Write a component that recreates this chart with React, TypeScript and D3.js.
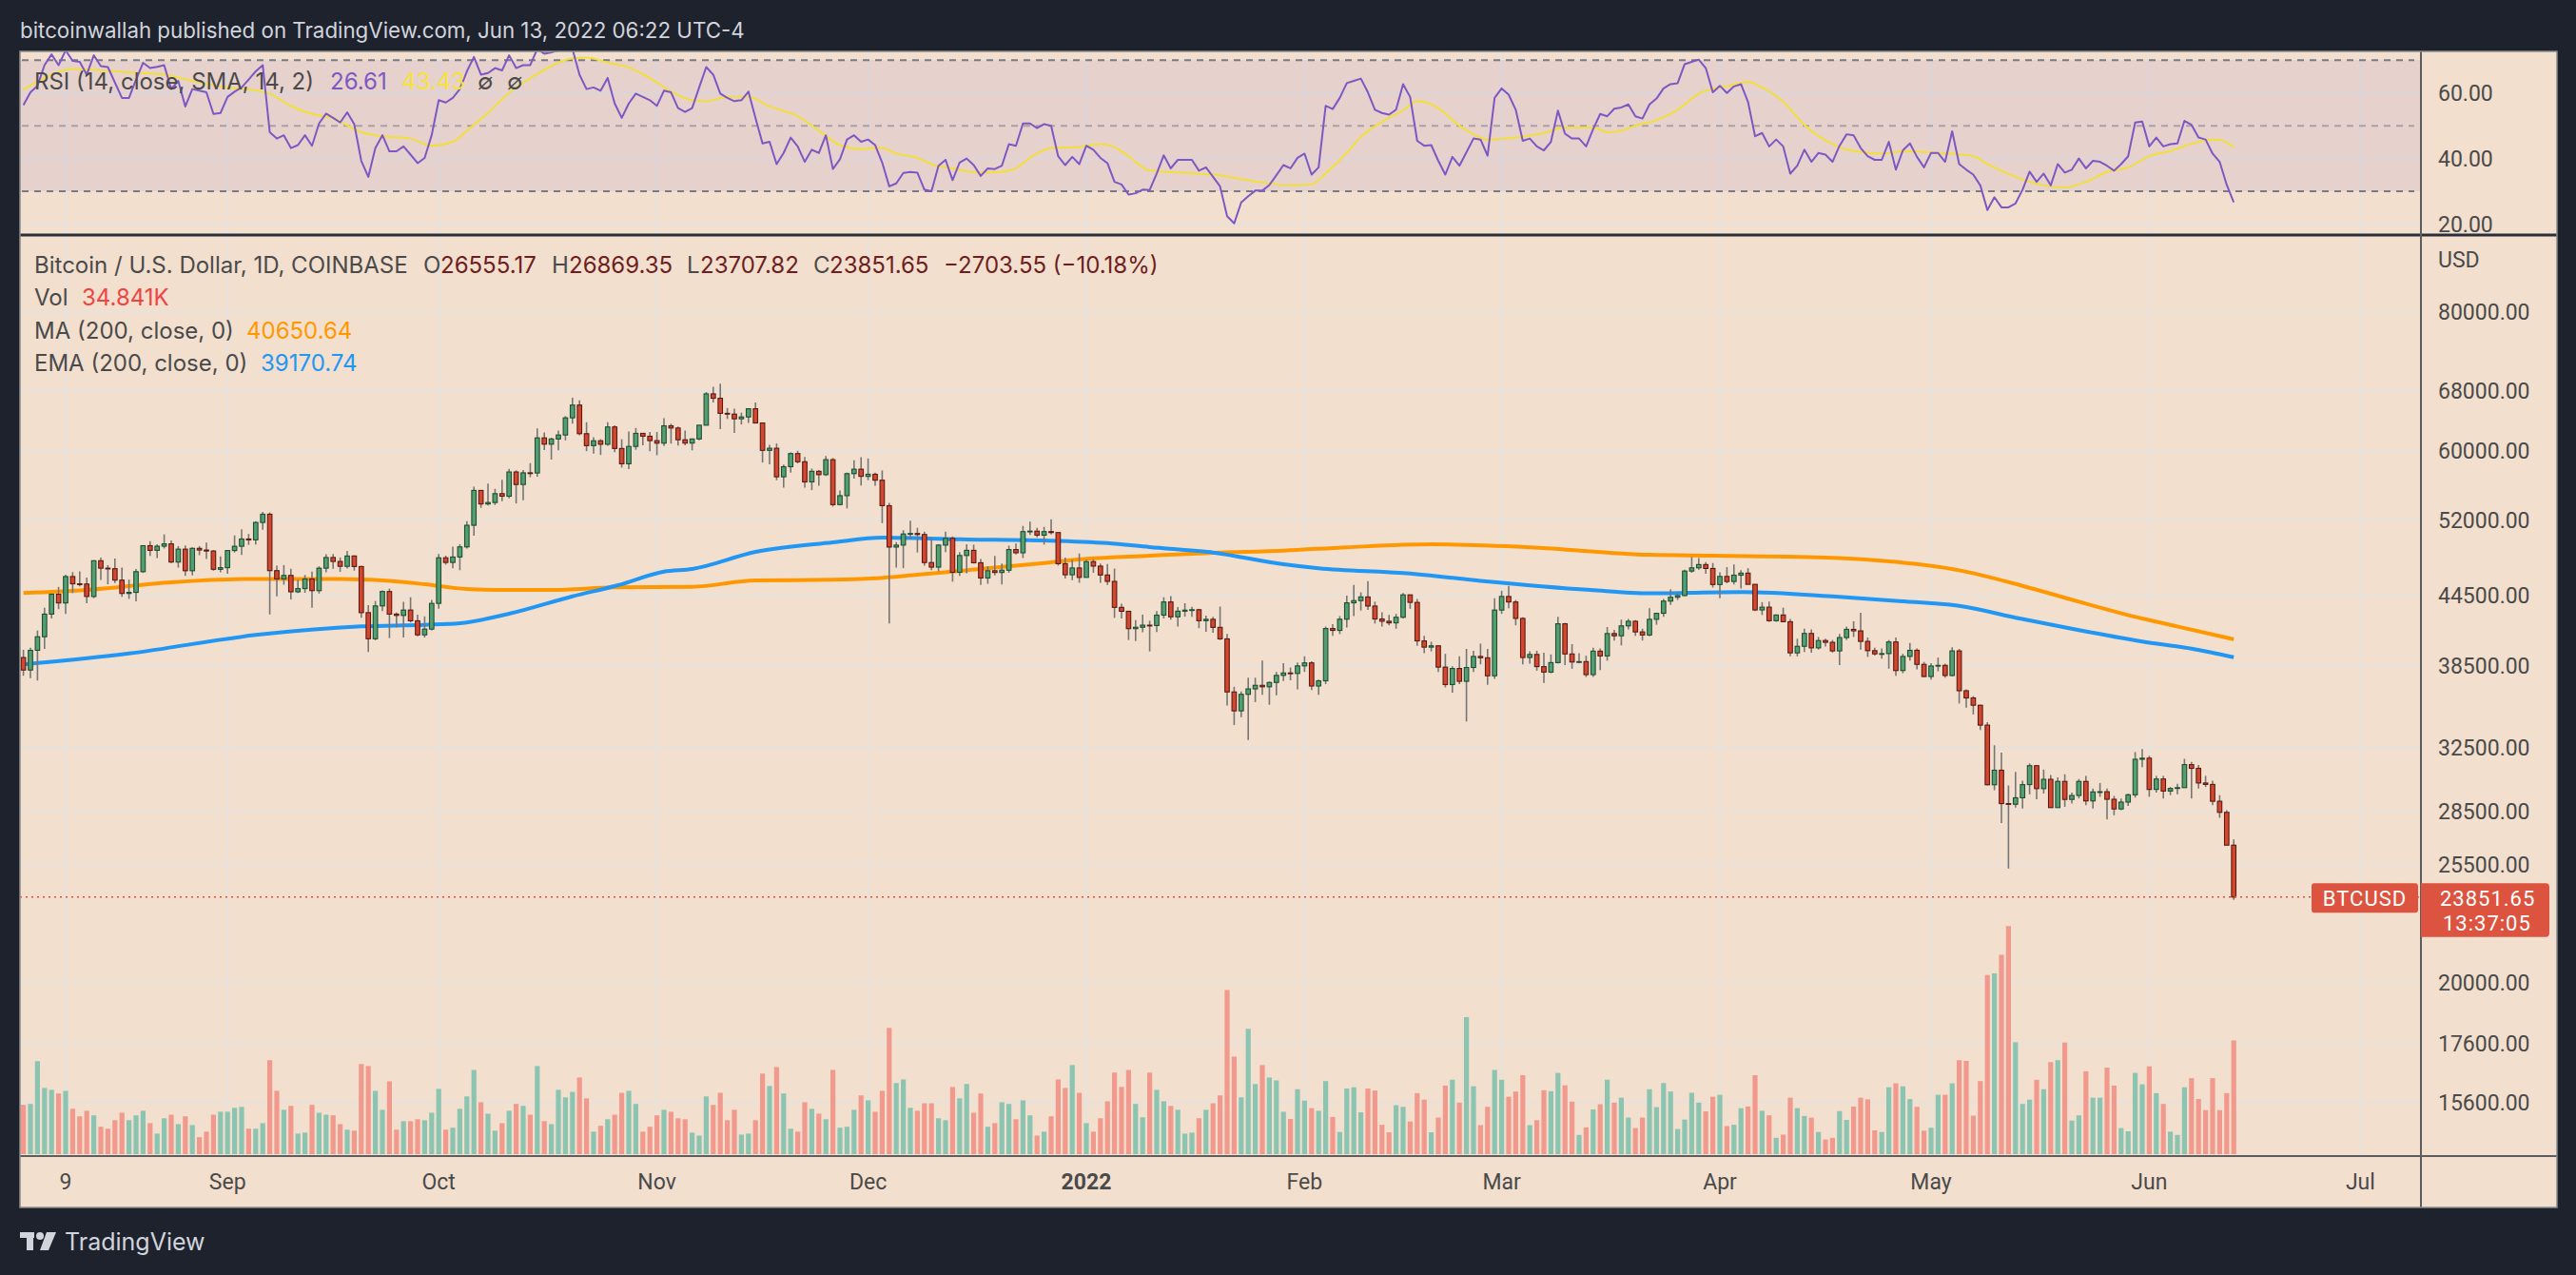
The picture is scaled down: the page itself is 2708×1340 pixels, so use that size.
import * as d3 from "d3";

// ---------- chart values ----------
const firstDay = "2021-08-03";

// daily candles: [open, high, low, close]
const ohlc: [number, number, number, number][] = [
  [39150, 39780, 37700, 38150], [38150, 39950, 37520, 39740], [39740, 41400, 37330, 40870], [40870, 43390, 39850, 42830], [42830, 44700, 42450, 44630],
  [44630, 45310, 43270, 43830], [43830, 46460, 42850, 46290], [46290, 46720, 44730, 45600], [45600, 46800, 45350, 45580], [45580, 46200, 43800, 44420],
  [44420, 47880, 44260, 47830], [47830, 48150, 45970, 47100], [47100, 47390, 45550, 47050], [47050, 48050, 45670, 45950], [45950, 47160, 44380, 44700],
  [44700, 46000, 44200, 44800], [44800, 47030, 43970, 46760], [46760, 49360, 46640, 49340], [49340, 49800, 48300, 48870], [48870, 49500, 48100, 49290],
  [49290, 50500, 49060, 49530], [49530, 49870, 47600, 47700], [47700, 49300, 47160, 48990], [48990, 49360, 46350, 46850], [46850, 49180, 46400, 49070],
  [49070, 49300, 48380, 48900], [48900, 49650, 48000, 48800], [48800, 48900, 46850, 46990], [46990, 48250, 46700, 47150], [47150, 48850, 46570, 48850],
  [48850, 50400, 48650, 49280], [49280, 51050, 48400, 50030], [50030, 50560, 49430, 49940], [49940, 51900, 49460, 51770], [51770, 52920, 50990, 52660],
  [52660, 52850, 42800, 46860], [46860, 47340, 44430, 46060], [46060, 47400, 45520, 46400], [46400, 47050, 44150, 44850], [44850, 45980, 44750, 45150],
  [45150, 46450, 44760, 46060], [46060, 46760, 43400, 44960], [44960, 47280, 44690, 47100], [47100, 48470, 46700, 48150], [48150, 48500, 47050, 47760],
  [47760, 48150, 46750, 47280], [47280, 48820, 47070, 48300], [48300, 48370, 46860, 47260], [47260, 47330, 42500, 42960], [42960, 43630, 39600, 40700],
  [40700, 44000, 40570, 43560], [43560, 44980, 43100, 44880], [44880, 45150, 40760, 42830], [42830, 42970, 41680, 42710], [42710, 43940, 40800, 43190],
  [43190, 44350, 42100, 42240], [42240, 42780, 40900, 41030], [41030, 42630, 40800, 41520], [41520, 44100, 41420, 43790], [43790, 48500, 43300, 48120],
  [48120, 48340, 47440, 47660], [47660, 49250, 47100, 48200], [48200, 49500, 46900, 49220], [49220, 51900, 49040, 51470], [51470, 55750, 50380, 55320],
  [55320, 55340, 53360, 53790], [53790, 56100, 53620, 53950], [53950, 55500, 53680, 54950], [54950, 56550, 54100, 54660], [54660, 57840, 54410, 57470],
  [57470, 57670, 53850, 56000], [56000, 57700, 54200, 57370], [57370, 58530, 56850, 57350], [57350, 62900, 56900, 61670], [61670, 62370, 60150, 60870],
  [60870, 61700, 58960, 61530], [61530, 62600, 60100, 62040], [62040, 64500, 61350, 64280], [64280, 67000, 63500, 66000], [66000, 66650, 62000, 62210],
  [62210, 63700, 60000, 60690], [60690, 61750, 59700, 61300], [61300, 61500, 59530, 60860], [60860, 63700, 60670, 63080], [63080, 63280, 59880, 60330],
  [60330, 61500, 58000, 58450], [58450, 62500, 57820, 60590], [60590, 62950, 60170, 62250], [62250, 62300, 60720, 61880], [61880, 62420, 60000, 61320],
  [61320, 62420, 59500, 61000], [61000, 64250, 60650, 63230], [63230, 63500, 60950, 62940], [62940, 63150, 60700, 61430], [61430, 62600, 60730, 61010],
  [61010, 61600, 60100, 61530], [61530, 63300, 61350, 63310], [63310, 67800, 63300, 67550], [67550, 68530, 66350, 66940], [66940, 69000, 62800, 64880],
  [64880, 65600, 64130, 64780], [64780, 65500, 62300, 64150], [64150, 64970, 63400, 64400], [64400, 65500, 63600, 65500], [65500, 66340, 63550, 63600],
  [63600, 63600, 58600, 60100], [60100, 60800, 58400, 60360], [60360, 60960, 56500, 56900], [56900, 58350, 55650, 58100], [58100, 59850, 57400, 59700],
  [59700, 60050, 58500, 58700], [58700, 59280, 55650, 56300], [56300, 57870, 55350, 57550], [57550, 57700, 55850, 57150], [57150, 59400, 57000, 58950],
  [58950, 59150, 53500, 53720], [53720, 55300, 53620, 54720], [54720, 57400, 53300, 57270], [57270, 58870, 56700, 57800], [57800, 59250, 55880, 56950],
  [56950, 59100, 56500, 57200], [57200, 57400, 55850, 56500], [56500, 57650, 51700, 53600], [53600, 53900, 42000, 49200], [49200, 49700, 47150, 49400],
  [49400, 50950, 47100, 50550], [50550, 51950, 50050, 50600], [50600, 51200, 48650, 50500], [50500, 50800, 47350, 47650], [47650, 50100, 46900, 47200],
  [47200, 49500, 46800, 49400], [49400, 50800, 48680, 50100], [50100, 50300, 45800, 46700], [46700, 48700, 46350, 48350], [48350, 49500, 46600, 48870],
  [48870, 49450, 47550, 47630], [47630, 48000, 45500, 46150], [46150, 47300, 45600, 46850], [46850, 48300, 46400, 46680], [46680, 47550, 45550, 46900],
  [46900, 49350, 46650, 48950], [48950, 49550, 48450, 48620], [48620, 51400, 48100, 50800], [50800, 51850, 50450, 50850], [50850, 51200, 50200, 50430],
  [50430, 51300, 49450, 50800], [50800, 52100, 50500, 50700], [50700, 50700, 47350, 47540], [47540, 48150, 46100, 46460], [46460, 47900, 45950, 47120],
  [47120, 48550, 45700, 46210], [46210, 47950, 46200, 47740], [47740, 47980, 46650, 47300], [47300, 47550, 45700, 46440], [46440, 47500, 45500, 45830],
  [45830, 47050, 42500, 43430], [43430, 43750, 42450, 43080], [43080, 43130, 40600, 41560], [41560, 42300, 40500, 41680], [41680, 42780, 41250, 41860],
  [41860, 42250, 39650, 41830], [41830, 43100, 41280, 42740], [42740, 44350, 42450, 43920], [43920, 44450, 42330, 42590], [42590, 43450, 41750, 43090],
  [43090, 43800, 42600, 43180], [43180, 43480, 42600, 43220], [43220, 43300, 41600, 42250], [42250, 42700, 41300, 42370], [42370, 42600, 41200, 41670],
  [41670, 43500, 40600, 40690], [40690, 41100, 35450, 36460], [36460, 36850, 34050, 35060], [35060, 36500, 34600, 36280], [36280, 37550, 33000, 36690],
  [36690, 37550, 35700, 36960], [36960, 38900, 36250, 36850], [36850, 37250, 35500, 37180], [37180, 38000, 36200, 37730], [37730, 38700, 37300, 37920],
  [37920, 38350, 37350, 37880], [37880, 38750, 36650, 38480], [38480, 39250, 38000, 38720], [38720, 38850, 36600, 36910], [36910, 37400, 36250, 37310],
  [37310, 41750, 37050, 41570], [41570, 41950, 40950, 41410], [41410, 42650, 41100, 42380], [42380, 44500, 41650, 43840], [43840, 45500, 42650, 44040],
  [44040, 44800, 43150, 44380], [44380, 45850, 43200, 43550], [43550, 43950, 42000, 42400], [42400, 43000, 41750, 42200], [42200, 42750, 41850, 42060],
  [42060, 42850, 41550, 42550], [42550, 44750, 42450, 44570], [44570, 44570, 43300, 43880], [43880, 44200, 40100, 40520], [40520, 40950, 39500, 40000],
  [40000, 40450, 39650, 40110], [40110, 40150, 38000, 38380], [38380, 39450, 36800, 37020], [37020, 38450, 36400, 38270], [38270, 39250, 37050, 37270],
  [37270, 39850, 34300, 38350], [38350, 39700, 38000, 39240], [39240, 40300, 38600, 39130], [39130, 39850, 37000, 37700], [37700, 44250, 37450, 43190],
  [43190, 44950, 42850, 44420], [44420, 45400, 43350, 43920], [43920, 44100, 41850, 42450], [42450, 42550, 38600, 39150], [39150, 39650, 38650, 39400],
  [39400, 39700, 38100, 38420], [38420, 39550, 37150, 37990], [37990, 39400, 37900, 38740], [38740, 42600, 38680, 41980], [41980, 42050, 38550, 39440],
  [39440, 40250, 38250, 38790], [38790, 39500, 38700, 38820], [38820, 39300, 37600, 37790], [37790, 39950, 37600, 39670], [39670, 39900, 38150, 39280],
  [39280, 41700, 38900, 41140], [41140, 41450, 40550, 40950], [40950, 42350, 40150, 41800], [41800, 42400, 41500, 42200], [42200, 42300, 40950, 41280],
  [41280, 41550, 40550, 41020], [41020, 43350, 40900, 42370], [42370, 42900, 41900, 42900], [42900, 44200, 42600, 44000], [44000, 45100, 43650, 44350],
  [44350, 44800, 44100, 44500], [44500, 46950, 44450, 46820], [46820, 48200, 46650, 47130], [47130, 48100, 46950, 47450], [47450, 47700, 46550, 47070],
  [47070, 47600, 45250, 45530], [45530, 46700, 44250, 46300], [46300, 47200, 45650, 45820], [45820, 47450, 45550, 46420], [46420, 46900, 45150, 46620],
  [46620, 47100, 45550, 45550], [45550, 45550, 43100, 43200], [43200, 43900, 42750, 43450], [43450, 43950, 42150, 42250], [42250, 42800, 42150, 42750],
  [42750, 43400, 42150, 42160], [42160, 42400, 39250, 39530], [39530, 40700, 39250, 40070], [40070, 41550, 39600, 41150], [41150, 41500, 39550, 39940],
  [39940, 40850, 39800, 40550], [40550, 40700, 40050, 40400], [40400, 40600, 39550, 39690], [39690, 41100, 38550, 40800], [40800, 41750, 40600, 41500],
  [41500, 42200, 40850, 41370], [41370, 42950, 39800, 40480], [40480, 40800, 39200, 39710], [39710, 39950, 39300, 39450], [39450, 39900, 39050, 39470],
  [39470, 40600, 38250, 40430], [40430, 40800, 37700, 38110], [38110, 39450, 37900, 39240], [39240, 40350, 38900, 39740], [39740, 39900, 38200, 38600],
  [38600, 38800, 37600, 37640], [37640, 38700, 37400, 38470], [38470, 39150, 38050, 38520], [38520, 38650, 37550, 37720], [37720, 40000, 37650, 39690],
  [39690, 39850, 35600, 36550], [36550, 36650, 35300, 36010], [36010, 36150, 34800, 35470], [35470, 35500, 33700, 34040], [34040, 34250, 30050, 30090],
  [30090, 32650, 29750, 31010], [31010, 32150, 27800, 28940], [28940, 30050, 25300, 28900], [28900, 30900, 28700, 29290], [29290, 30350, 28650, 30100],
  [30100, 31450, 29500, 31300], [31300, 31300, 29200, 29850], [29850, 31050, 29550, 30430], [30430, 30700, 28700, 28700], [28700, 30550, 28700, 30300],
  [30300, 30750, 28750, 29190], [29190, 29600, 28950, 29430], [29430, 30450, 29250, 30300], [30300, 30650, 28850, 29100], [29100, 29850, 28650, 29650],
  [29650, 30200, 29350, 29660], [29660, 29850, 28000, 29200], [29200, 29400, 28250, 28620], [28620, 29250, 28550, 29030], [29030, 29550, 28800, 29470],
  [29470, 32200, 29300, 31720], [31720, 32400, 31200, 31790], [31790, 31950, 29350, 29800], [29800, 30650, 29600, 30450], [30450, 30650, 29250, 29700],
  [29700, 29950, 29450, 29860], [29860, 30150, 29500, 29910], [29910, 31750, 29900, 31370], [31370, 31550, 29250, 31130], [31130, 31350, 29850, 30200],
  [30200, 30650, 29950, 30110], [30110, 30350, 28850, 29080], [29080, 29450, 28100, 28420], [28420, 28550, 26600, 26555], [26555.17, 26869.35, 23707.82, 23851.65],
];

// daily volume, thousands of BTC
const volumeK: number[] = [
  15.1, 15.4, 28.5, 20.3, 19.7, 18.6, 19.4, 13.9, 11.6, 13.3,
  11.9, 8.4, 7.8, 10.4, 12.7, 10.4, 11.9, 13.3, 9.5, 6.3,
  11.0, 12.1, 9.2, 11.6, 8.9, 5.2, 6.9, 12.1, 13.0, 13.0,
  14.2, 14.5, 7.8, 7.8, 9.5, 28.8, 19.4, 13.6, 14.8, 6.3,
  6.6, 15.1, 12.7, 12.1, 11.9, 9.2, 7.5, 7.2, 27.6, 27.0,
  19.4, 13.6, 22.3, 7.5, 10.1, 10.1, 10.7, 10.4, 12.7, 20.0,
  7.5, 8.1, 13.9, 17.7, 25.8, 15.9, 12.4, 7.2, 9.5, 13.3,
  15.4, 14.8, 12.1, 27.0, 10.1, 9.2, 19.7, 17.4, 19.1, 23.5,
  17.1, 6.9, 8.7, 10.7, 12.1, 18.8, 19.4, 15.4, 6.9, 8.4,
  11.9, 13.6, 13.0, 11.0, 10.7, 6.6, 5.7, 17.7, 15.1, 18.8,
  10.4, 13.6, 6.0, 6.3, 10.4, 24.7, 20.9, 26.7, 18.6, 7.8,
  6.9, 15.9, 13.9, 12.4, 10.7, 25.8, 8.1, 8.4, 13.6, 18.0,
  16.5, 13.0, 19.4, 38.7, 21.8, 22.9, 14.2, 13.3, 15.6, 15.6,
  11.0, 10.4, 20.6, 17.1, 21.5, 12.7, 18.6, 8.4, 9.5, 15.9,
  15.4, 10.7, 16.5, 11.9, 5.7, 6.9, 11.6, 22.9, 20.3, 27.3,
  18.8, 9.5, 6.9, 11.0, 16.2, 25.0, 20.6, 25.8, 15.4, 11.3,
  25.0, 19.7, 16.2, 14.8, 13.6, 6.3, 6.6, 11.0, 13.6, 15.6,
  18.0, 50.3, 29.9, 17.4, 38.4, 21.5, 27.3, 23.5, 22.6, 13.0,
  10.8, 19.9, 16.4, 14.1, 13.3, 22.4, 11.4, 6.8, 20.1, 20.5,
  12.8, 20.1, 19.5, 9.0, 6.7, 15.0, 14.5, 10.0, 18.7, 16.7,
  6.7, 11.2, 21.0, 22.8, 15.8, 42.0, 20.8, 8.9, 14.5, 25.8,
  22.8, 17.6, 19.2, 24.2, 8.9, 10.4, 19.6, 19.3, 24.9, 21.1,
  16.1, 5.9, 8.2, 13.7, 15.3, 22.8, 15.8, 17.3, 11.2, 8.0,
  11.2, 19.9, 14.4, 21.8, 19.2, 7.7, 10.6, 18.8, 15.8, 13.1,
  17.6, 18.2, 8.6, 9.0, 14.1, 14.6, 24.2, 13.3, 11.9, 5.0,
  6.0, 17.3, 14.1, 11.7, 11.2, 6.8, 4.5, 5.0, 13.2, 10.5,
  14.6, 17.3, 16.8, 7.3, 6.8, 20.5, 21.7, 20.8, 16.9, 14.5,
  7.2, 8.1, 18.2, 18.2, 21.7, 28.8, 28.6, 11.8, 22.4, 54.9,
  55.4, 61.1, 69.9, 34.3, 15.4, 16.7, 22.8, 19.9, 28.2, 28.8,
  34.2, 10.3, 11.9, 25.4, 17.3, 17.3, 26.5, 21.0, 8.0, 7.0,
  24.9, 21.4, 26.9, 18.7, 15.4, 6.9, 5.9, 20.5, 23.3, 16.9,
  13.5, 23.3, 13.5, 18.7, 34.841,
];

// RSI (14) per day
const rsi: number[] = [
  56.3, 60.2, 62.2, 68.5, 71.8, 68.5, 73.0, 69.8, 69.5, 65.6,
  71.5, 68.2, 67.9, 63.2, 58.5, 58.5, 64.1, 69.2, 67.6, 68.0,
  68.5, 61.2, 63.7, 55.9, 61.2, 60.7, 60.2, 53.6, 53.9, 58.8,
  60.4, 61.7, 64.1, 66.6, 68.5, 48.0, 46.1, 47.1, 43.2, 44.1,
  47.1, 43.9, 50.7, 53.7, 52.4, 51.0, 54.1, 50.5, 39.3, 34.4,
  43.2, 47.1, 42.2, 42.2, 43.7, 41.2, 38.6, 40.2, 47.1, 57.8,
  57.1, 58.5, 61.2, 66.6, 71.0, 65.6, 66.1, 67.6, 66.9, 71.5,
  67.6, 68.5, 68.5, 73.4, 72.0, 72.4, 73.0, 74.0, 73.4, 65.6,
  61.2, 61.7, 60.7, 64.6, 56.8, 52.4, 56.8, 59.8, 58.8, 57.8,
  56.1, 60.7, 60.2, 55.4, 54.2, 55.4, 61.7, 67.9, 65.6, 59.8,
  58.5, 57.5, 57.8, 60.4, 52.4, 44.6, 45.1, 38.3, 41.7, 46.4,
  43.7, 39.0, 42.7, 41.7, 47.1, 36.8, 39.8, 45.8, 47.1, 45.1,
  45.8, 44.1, 38.8, 31.5, 32.4, 35.6, 35.9, 35.7, 30.5, 30.0,
  37.8, 39.6, 33.4, 38.8, 40.0, 38.0, 34.7, 37.0, 36.8, 37.8,
  44.4, 43.9, 50.7, 50.7, 49.3, 50.5, 50.0, 40.7, 38.0, 40.5,
  38.3, 43.9, 42.7, 40.2, 38.6, 32.9, 32.1, 29.0, 29.4, 30.5,
  30.4, 35.4, 41.0, 37.0, 39.6, 39.6, 39.6, 36.3, 37.3, 34.4,
  31.5, 22.4, 20.2, 26.6, 28.5, 30.2, 30.2, 31.9, 34.9, 38.0,
  37.0, 40.2, 41.5, 35.1, 37.3, 56.1, 55.1, 58.5, 63.0, 63.7,
  64.4, 60.2, 54.9, 53.9, 53.4, 54.9, 62.7, 58.8, 45.4, 43.9,
  44.1, 39.3, 35.1, 40.5, 37.8, 41.9, 46.1, 45.8, 40.9, 58.5,
  61.4, 59.5, 54.9, 45.4, 46.1, 43.7, 42.5, 45.1, 54.6, 47.6,
  46.1, 46.1, 43.7, 49.0, 53.6, 52.9, 55.2, 55.6, 56.5, 52.9,
  52.2, 56.5, 58.3, 61.4, 62.7, 63.0, 68.8, 69.5, 70.2, 67.6,
  60.2, 62.2, 60.0, 62.0, 62.7, 57.3, 46.8, 47.8, 43.7, 45.8,
  43.7, 35.4, 37.8, 42.7, 39.0, 41.7, 41.2, 39.0, 43.9, 47.4,
  47.1, 43.2, 40.7, 39.6, 39.6, 45.1, 36.6, 42.5, 44.6, 40.5,
  37.3, 41.7, 41.7, 39.0, 48.3, 38.3, 36.6, 35.1, 31.8, 24.3,
  28.2, 25.1, 25.1, 26.3, 30.5, 36.0, 32.9, 35.4, 31.8, 38.3,
  35.7, 36.6, 40.0, 37.0, 39.3, 39.0, 37.8, 36.3, 38.3, 40.7,
  51.0, 51.3, 43.7, 46.4, 43.7, 44.4, 44.6, 51.5, 50.3, 46.4,
  45.8, 41.5, 39.0, 32.0, 26.61,
];

// SMA(14) of RSI, sampled along the line: [day index, value]
const rsiSma: [number, number][] = [
  [0, 61.0], [3, 64.6], [7, 67.3], [11, 66.9], [15, 66.3], [20, 65.6], [24, 63.7], [29, 61.7], [33, 60.8], [35, 59.8],
  [38, 56.0], [41, 53.6], [44, 52.3], [48, 48.0], [51, 46.8], [55, 46.1], [58, 43.9], [61, 45.1], [63, 48.5], [66, 54.0],
  [69, 60.0], [72, 64.5], [75, 68.2], [78, 70.6], [80, 70.8], [83, 69.3], [86, 67.8], [89, 64.5], [92, 60.5], [95, 57.8],
  [97, 57.5], [100, 58.8], [103, 58.8], [106, 55.9], [110, 52.9], [113, 48.5], [116, 44.1], [119, 42.9], [122, 43.2], [124, 41.5],
  [127, 40.2], [129, 38.3], [132, 37.0], [136, 35.7], [139, 36.0], [141, 37.0], [143, 40.2], [146, 43.2], [150, 43.5], [153, 44.4],
  [155, 43.5], [157, 40.7], [160, 36.3], [163, 35.9], [167, 35.4], [170, 34.9], [173, 33.7], [176, 32.7], [180, 31.8], [183, 32.1],
  [185, 35.5], [188, 41.7], [190, 46.6], [193, 51.2], [196, 54.7], [198, 57.5], [201, 55.4], [204, 50.0], [206, 47.4], [208, 45.8],
  [212, 46.4], [216, 47.8], [219, 49.5], [223, 49.5], [225, 48.0], [227, 48.5], [229, 50.0], [232, 51.7], [235, 54.9], [238, 59.8],
  [242, 62.1], [245, 63.4], [247, 61.7], [250, 57.3], [253, 50.3], [257, 44.4], [259, 42.7], [264, 41.5], [267, 42.2], [272, 41.7],
  [277, 40.7], [279, 38.3], [283, 34.4], [287, 31.8], [290, 31.2], [293, 32.9], [296, 35.9], [299, 37.3], [302, 40.7], [305, 42.3],
  [308, 44.5], [311, 45.8], [312, 45.7], [314, 43.43],
];

// MA (200) sampled along the line: [day index, price]
const ma200: [number, number][] = [
  [0, 44730], [9, 45020], [21, 45740], [33, 46060], [45, 46060], [51, 45920], [57, 45560], [63, 45110], [69, 45020], [75, 45020],
  [84, 45260], [95, 45320], [104, 45920], [115, 45980], [121, 46130], [127, 46470], [136, 47020], [145, 47600], [151, 48020], [160, 48330],
  [169, 48620], [179, 48840], [188, 49180], [200, 49480], [214, 49180], [231, 48420], [240, 48330], [257, 48120], [266, 47710], [275, 46890],
  [284, 45410], [292, 43940], [301, 42440], [305, 41890], [314, 40650.64],
];

// EMA (200) sampled along the line: [day index, price]
const ema200: [number, number][] = [
  [0, 38590], [15, 39480], [33, 41020], [48, 41760], [57, 41890], [62, 42030], [69, 42860], [78, 44430], [84.5, 45470], [91, 46770],
  [95, 47020], [104, 48710], [115, 49680], [122, 50170], [133, 50000], [145, 49880], [154, 49610], [160, 49200], [169, 48650], [179, 47480],
  [184, 47090], [196.5, 46600], [207, 45880], [222.6, 45020], [231, 44710], [244, 44820], [257.5, 44400], [266, 44020], [275, 43560], [283.6, 42440],
  [292, 41430], [301, 40470], [308, 39870], [314, 39170.74],
];

const priceTicks = [80000, 68000, 60000, 52000, 44500, 38500, 32500, 28500, 25500, 20000, 17600, 15600];
const rsiTicks = [60, 40, 20];
const rsiBands = [70, 50, 30];
const timeTickDates = ["2021-08-09", "2021-09-01", "2021-10-01", "2021-11-01", "2021-12-01", "2022-01-01",
  "2022-02-01", "2022-03-01", "2022-04-01", "2022-05-01", "2022-06-01", "2022-07-01"];
const timeTickLabels = ["9", "Sep", "Oct", "Nov", "Dec", "2022", "Feb", "Mar", "Apr", "May", "Jun", "Jul"];

const lastPrice = 23851.65;

// ---------- layout ----------
const W = 2708;
const H = 1340;
const AXIS_FONT = "Roboto, 'Noto Sans', Arial, sans-serif";
const TEXT_FONT = "Inter, Roboto, 'Noto Sans', sans-serif";
const panel = { left: 21, right: 2688, top: 54, bottom: 1269 };
const rsiPane = { top: 54, bottom: 247 };
const mainPane = { top: 247, bottom: 1215 };
const axisX = 2545;

const BG = "#f2dfce";
const GRID = "#e6e2de";
const AXIS_TEXT = "#4a4a4a";
const UP_FILL = "#539e73";
const UP_LINE = "#1d4f30";
const DOWN_FILL = "#d4472f";
const DOWN_LINE = "#5c1a13";
const WICK = "#767676";
const VOL_UP = "#8cc4b2";
const VOL_DOWN = "#f1998c";

const DAY_MS = 86400000;
const day0 = new Date(firstDay + "T00:00:00Z").getTime();
const dayDate = (i: number) => new Date(day0 + i * DAY_MS);

export default function App() {
  const x = d3.scaleUtc().domain([dayDate(0), dayDate(314)]).range([24.6, 2348.2]);
  const xi = (i: number) => x(dayDate(i));
  const yPrice = d3.scaleLog().domain([15600, 80000]).range([1158.5, 328]);
  const yRsi = d3.scaleLinear().domain([20, 70]).range([235.5, 63.3]);
  const yVol = d3.scaleLinear().domain([0, 34.841]).range([1213, 1093.5]);

  const rsiLine = d3.line<number>().x((_, i) => xi(i)).y((v) => yRsi(v))(rsi) ?? "";
  const smaLine = d3
    .line<[number, number]>()
    .x((d) => xi(d[0]))
    .y((d) => yRsi(d[1]))
    .curve(d3.curveMonotoneX)(rsiSma) ?? "";
  const priceLine = d3
    .line<[number, number]>()
    .x((d) => xi(d[0]))
    .y((d) => yPrice(d[1]))
    .curve(d3.curveMonotoneX);

  const timeTicks = timeTickDates.map((d, k) => ({
    x: x(new Date(d + "T00:00:00Z")),
    label: timeTickLabels[k],
  }));

  const yLast = yPrice(lastPrice);

  return (
    <div style={{ position: "fixed", left: 0, top: 0, width: W, height: H, background: "#1e222d" }}>
      <svg width={W} height={H} viewBox={`0 0 ${W} ${H}`} style={{ display: "block" }} fontFamily={AXIS_FONT}>
        <defs>
          <clipPath id="clip-main">
            <rect x={panel.left} y={mainPane.top} width={axisX - panel.left} height={mainPane.bottom - mainPane.top} />
          </clipPath>
          <clipPath id="clip-rsi">
            <rect x={panel.left} y={rsiPane.top} width={axisX - panel.left} height={rsiPane.bottom - rsiPane.top} />
          </clipPath>
        </defs>

        <rect x={0} y={0} width={W} height={H} fill="#1e222d" />
        <text x={21} y={40} fontSize={22.3} fill="#d1d4dc" fontFamily={TEXT_FONT}>
          bitcoinwallah published on TradingView.com, Jun 13, 2022 06:22 UTC-4
        </text>

        {/* panel */}
        <rect x={panel.left} y={panel.top} width={panel.right - panel.left} height={panel.bottom - panel.top} fill={BG} />

        {/* vertical grid */}
        {timeTicks.map((t) => (
          <line key={t.label} x1={t.x} x2={t.x} y1={panel.top} y2={mainPane.bottom} stroke={GRID} strokeWidth={2} />
        ))}

        {/* RSI pane */}
        <g clipPath="url(#clip-rsi)">
          {rsiTicks.map((v) => (
            <line key={v} x1={panel.left} x2={axisX} y1={yRsi(v)} y2={yRsi(v)} stroke={GRID} strokeWidth={2} />
          ))}
          <rect
            x={panel.left}
            y={yRsi(70)}
            width={axisX - panel.left}
            height={yRsi(30) - yRsi(70)}
            fill="rgba(126,87,194,0.1)"
          />
          {rsiBands.map((v) => (
            <line
              key={v}
              x1={panel.left + 2}
              x2={axisX - 7}
              y1={yRsi(v)}
              y2={yRsi(v)}
              stroke={v === 50 ? "#a6a2a8" : "#787b86"}
              strokeWidth={2}
              strokeDasharray="7 6"
            />
          ))}
          <path d={smaLine} fill="none" stroke="#f2df3a" strokeWidth={2} />
          <path d={rsiLine} fill="none" stroke="#7e57c2" strokeWidth={2} strokeLinejoin="round" />
        </g>

        {/* main pane */}
        <g clipPath="url(#clip-main)">
          {priceTicks.map((p) => (
            <line key={p} x1={panel.left} x2={axisX} y1={yPrice(p)} y2={yPrice(p)} stroke={GRID} strokeWidth={2} />
          ))}
          {volumeK.map((v, i) => {
            const [o, , , c] = ohlc[i];
            return (
              <rect
                key={i}
                x={xi(i) - 2.6}
                y={yVol(v)}
                width={5.2}
                height={yVol(0) - yVol(v)}
                fill={c >= o ? VOL_UP : VOL_DOWN}
              />
            );
          })}
          <path d={priceLine(ma200) ?? ""} fill="none" stroke="#ff9800" strokeWidth={4} />
          <path d={priceLine(ema200) ?? ""} fill="none" stroke="#2196f3" strokeWidth={4} />
          {ohlc.map(([o, h, l, c], i) => {
            const cx = xi(i);
            const up = c >= o;
            const top = yPrice(Math.max(o, c));
            const bot = yPrice(Math.min(o, c));
            return (
              <g key={i}>
                <line x1={cx} x2={cx} y1={yPrice(h)} y2={yPrice(l)} stroke={WICK} strokeWidth={1.6} />
                <rect
                  x={cx - 2.3}
                  y={top}
                  width={4.6}
                  height={Math.max(bot - top, 0.8)}
                  fill={up ? UP_FILL : DOWN_FILL}
                  stroke={up ? UP_LINE : DOWN_LINE}
                  strokeWidth={1.1}
                />
              </g>
            );
          })}
          <line
            x1={panel.left}
            x2={axisX}
            y1={yLast}
            y2={yLast}
            stroke="#e0513c"
            strokeWidth={1.6}
            strokeDasharray="2 4"
          />
        </g>

        {/* frame lines */}
        <line x1={panel.left} x2={panel.right} y1={rsiPane.bottom} y2={rsiPane.bottom} stroke="#2a2e39" strokeWidth={3} />
        <line x1={axisX} x2={axisX} y1={panel.top} y2={panel.bottom} stroke="#5d5d5d" strokeWidth={2} />
        <line x1={panel.left} x2={panel.right} y1={mainPane.bottom} y2={mainPane.bottom} stroke="#5d5d5d" strokeWidth={2} />
        <rect
          x={panel.left}
          y={panel.top}
          width={panel.right - panel.left}
          height={panel.bottom - panel.top}
          fill="none"
          stroke="#8c8c8c"
          strokeWidth={1.5}
        />

        {/* price axis */}
        <g fontSize={23} fill={AXIS_TEXT}>
          {rsiTicks.map((v) => (
            <text key={v} x={2563} y={yRsi(v)} dy="0.36em">
              {v.toFixed(2)}
            </text>
          ))}
          <text x={2563} y={273} dy="0.36em">USD</text>
          {priceTicks.map((p) => (
            <text key={p} x={2563} y={yPrice(p)} dy="0.36em">
              {p.toFixed(2)}
            </text>
          ))}
        </g>

        {/* time axis */}
        <g fontSize={23} fill={AXIS_TEXT} textAnchor="middle">
          {timeTicks.map((t) => (
            <text key={t.label} x={t.x} y={1242} dy="0.36em" fontWeight={t.label === "2022" ? 700 : 400}>
              {t.label}
            </text>
          ))}
        </g>

        {/* last price labels */}
        <rect x={2430} y={yLast - 14.5} width={112} height={31} rx={3} fill="#dc5440" />
        <text x={2486} y={yLast + 1} dy="0.36em" textAnchor="middle" fontSize={22} fill="#ffffff" letterSpacing={1}>
          BTCUSD
        </text>
        <path
          d={`M${axisX} ${yLast - 14.5} H${2676} Q${2680} ${yLast - 14.5} ${2680} ${yLast - 10.5} V${yLast + 38} Q${2680} ${yLast + 42} ${2676} ${yLast + 42} H${axisX} Z`}
          fill="#dc5440"
        />
        <text x={2565} y={yLast + 1} dy="0.36em" fontSize={22} fill="#ffffff" letterSpacing={1}>
          {lastPrice.toFixed(2)}
        </text>
        <text x={2568} y={yLast + 27} dy="0.36em" fontSize={22} fill="#ffffff" letterSpacing={1}>
          13:37:05
        </text>

        {/* legends */}
        <g fontSize={24} fill="#4a4a4a" fontFamily={TEXT_FONT}>
          <text x={36} y={94}>RSI (14, close, SMA, 14, 2)</text>
          <text x={347} y={94} fill="#7e57c2">26.61</text>
          <text x={422} y={94} fill="#f5e33a">43.43</text>
          <text x={502} y={94}>∅</text>
          <text x={533} y={94}>∅</text>

          <text x={36} y={287}>Bitcoin / U.S. Dollar, 1D, COINBASE</text>
          <text x={445} y={287}>O</text>
          <text x={463} y={287} fill="#6e1e1e">26555.17</text>
          <text x={580} y={287}>H</text>
          <text x={598} y={287} fill="#6e1e1e">26869.35</text>
          <text x={722} y={287}>L</text>
          <text x={736} y={287} fill="#6e1e1e">23707.82</text>
          <text x={855} y={287}>C</text>
          <text x={872} y={287} fill="#6e1e1e">23851.65</text>
          <text x={992} y={287} fill="#6e1e1e">−2703.55 (−10.18%)</text>

          <text x={36} y={321}>Vol</text>
          <text x={86} y={321} fill="#ef4444">34.841K</text>
          <text x={36} y={356}>MA (200, close, 0)</text>
          <text x={259} y={356} fill="#ff9800">40650.64</text>
          <text x={36} y={390}>EMA (200, close, 0)</text>
          <text x={274} y={390} fill="#2196f3">39170.74</text>
        </g>

        {/* TradingView mark */}
        <g fill="#d1d4dc">
          <rect x={21} y={1295} width={15} height={6} />
          <rect x={28} y={1295} width={7} height={19} />
          <circle cx={42} cy={1299} r={4} />
          <path d="M49 1295 H59 L51 1314 H42 Z" />
          <text x={68} y={1314} fontSize={25} fontFamily={TEXT_FONT}>TradingView</text>
        </g>
      </svg>
    </div>
  );
}
